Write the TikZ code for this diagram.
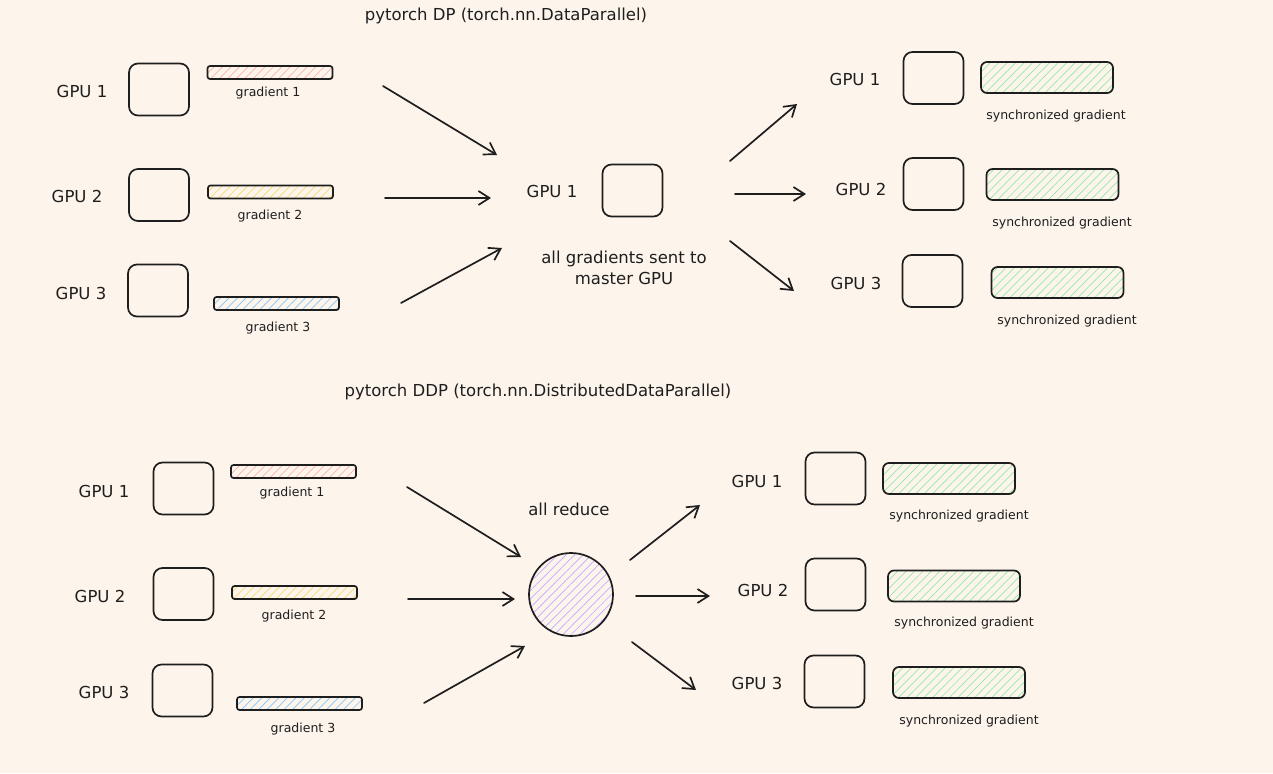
\documentclass[tikz,border=0pt]{standalone}
\usepackage{fontspec}
\setmainfont{DejaVu Sans}
\usetikzlibrary{arrows.meta,patterns.meta,shapes.geometric}
\definecolor{bg}{RGB}{253,245,236}
\definecolor{ink}{RGB}{30,30,30}
\definecolor{hred}{RGB}{255,175,175}
\definecolor{hyellow}{RGB}{250,215,110}
\definecolor{hblue}{RGB}{130,195,250}
\definecolor{hgreen}{RGB}{150,232,165}
\definecolor{hpurple}{RGB}{190,170,255}
\tikzset{
  gpu/.style={draw=ink, line width=1.7pt, rounded corners=9pt, minimum width=60pt, minimum height=52pt, inner sep=0pt},
  hatch/.style={pattern={Lines[angle=45,distance=6pt,line width=0.7pt]}, pattern color=#1},
  bar/.style={draw=ink, line width=1.7pt, rounded corners=2.5pt, minimum width=125pt, minimum height=13pt, inner sep=0pt, hatch=#1},
  sbar/.style={draw=ink, line width=1.7pt, rounded corners=6pt, minimum width=132pt, minimum height=31pt, inner sep=0pt, hatch=hgreen},
  lbl/.style={font=\fontsize{16.5}{21}\selectfont, text=ink, inner sep=0pt},
  small/.style={font=\fontsize{12.5}{15}\selectfont, text=ink, inner sep=0pt},
  arr/.style={draw=ink, line width=1.7pt, -{Straight Barb[length=11pt,width=14pt]}, line cap=round},
}
\begin{document}
\begin{tikzpicture}[x=1pt,y=-1pt]
\fill[bg] (0,0) rectangle (1273,773);
\useasboundingbox (0,0) rectangle (1273,773);

% ---------- DP ----------
\node[lbl] (t1) at (506,16) {pytorch DP (torch.nn.DataParallel)};

\node[lbl] (a1l) at (82,91) {GPU 1};
\node[gpu] (a1) at (159,89.5) {};
\node[bar=hred] (a1b) at (270,72.5) {};
\node[small] (a1g) at (268,93) {gradient 1};

\node[lbl] (a2l) at (77,196) {GPU 2};
\node[gpu] (a2) at (159,195) {};
\node[bar=hyellow] (a2b) at (270.5,192) {};
\node[small] (a2g) at (270,216) {gradient 2};

\node[lbl] (a3l) at (81,293) {GPU 3};
\node[gpu] (a3) at (158,290.5) {};
\node[bar=hblue] (a3b) at (276.5,303.5) {};
\node[small] (a3g) at (278,328) {gradient 3};

\coordinate (a1s) at (383,86);  \coordinate (a1e) at (497,155);
\coordinate (a2s) at (385,198); \coordinate (a2e) at (491,198);
\coordinate (a3s) at (401,303); \coordinate (a3e) at (502,248);
\draw[arr] (a1s) -- (a1e);
\draw[arr] (a2s) -- (a2e);
\draw[arr] (a3s) -- (a3e);

\node[lbl] (ml) at (552,191) {GPU 1};
\node[gpu] (m) at (632.5,190.5) {};
\node[lbl, align=center] (mt) at (624,268) {all gradients sent to\\master GPU};

\coordinate (b1s) at (730,161); \coordinate (b1e) at (797,104);
\coordinate (b2s) at (735,194); \coordinate (b2e) at (806,194);
\coordinate (b3s) at (730,241); \coordinate (b3e) at (794,291);
\draw[arr] (b1s) -- (b1e);
\draw[arr] (b2s) -- (b2e);
\draw[arr] (b3s) -- (b3e);

\node[lbl] (c1l) at (855,79) {GPU 1};
\node[gpu] (c1) at (933.5,78) {};
\node[sbar] (c1b) at (1047,77.5) {};
\node[small] (c1g) at (1056,116) {synchronized gradient};

\node[lbl] (c2l) at (861,189) {GPU 2};
\node[gpu] (c2) at (933.5,184) {};
\node[sbar] (c2b) at (1052.5,184.5) {};
\node[small] (c2g) at (1062,223) {synchronized gradient};

\node[lbl] (c3l) at (856,283) {GPU 3};
\node[gpu] (c3) at (932.5,281) {};
\node[sbar] (c3b) at (1057.5,282.5) {};
\node[small] (c3g) at (1067,321) {synchronized gradient};

% ---------- DDP ----------
\node[lbl] (t2) at (538,392) {pytorch DDP (torch.nn.DistributedDataParallel)};

\node[lbl] (d1l) at (104,491) {GPU 1};
\node[gpu] (d1) at (183.5,488.5) {};
\node[bar=hred] (d1b) at (293.5,471.5) {};
\node[small] (d1g) at (292,493) {gradient 1};

\node[lbl] (d2l) at (100,596) {GPU 2};
\node[gpu] (d2) at (183.5,594) {};
\node[bar=hyellow] (d2b) at (294.5,592.5) {};
\node[small] (d2g) at (294,616) {gradient 2};

\node[lbl] (d3l) at (104,692) {GPU 3};
\node[gpu] (d3) at (182.5,690.5) {};
\node[bar=hblue] (d3b) at (299.5,703.5) {};
\node[small] (d3g) at (303,729) {gradient 3};

\coordinate (d1s) at (407,487); \coordinate (d1e) at (521,557);
\coordinate (d2s) at (408,599); \coordinate (d2e) at (515,599);
\coordinate (d3s) at (424,703); \coordinate (d3e) at (525,646);
\draw[arr] (d1s) -- (d1e);
\draw[arr] (d2s) -- (d2e);
\draw[arr] (d3s) -- (d3e);

\node[lbl] (rl) at (569,509) {all reduce};
\node[draw=ink, line width=1.7pt, ellipse, minimum width=84pt, minimum height=83pt, inner sep=0pt, hatch=hpurple] (r) at (571,594.5) {};

\coordinate (e1s) at (630,560); \coordinate (e1e) at (700,505);
\coordinate (e2s) at (636,596); \coordinate (e2e) at (710,596);
\coordinate (e3s) at (632,642); \coordinate (e3e) at (696,690);
\draw[arr] (e1s) -- (e1e);
\draw[arr] (e2s) -- (e2e);
\draw[arr] (e3s) -- (e3e);

\node[lbl] (f1l) at (757,481) {GPU 1};
\node[gpu] (f1) at (835.5,478.5) {};
\node[sbar] (f1b) at (949,478.5) {};
\node[small] (f1g) at (959,516) {synchronized gradient};

\node[lbl] (f2l) at (763,590) {GPU 2};
\node[gpu] (f2) at (835.5,584.5) {};
\node[sbar] (f2b) at (954,586) {};
\node[small] (f2g) at (964,623) {synchronized gradient};

\node[lbl] (f3l) at (757,683) {GPU 3};
\node[gpu] (f3) at (834.5,681.5) {};
\node[sbar] (f3b) at (959,682.5) {};
\node[small] (f3g) at (969,721) {synchronized gradient};
\end{tikzpicture}
\end{document}
